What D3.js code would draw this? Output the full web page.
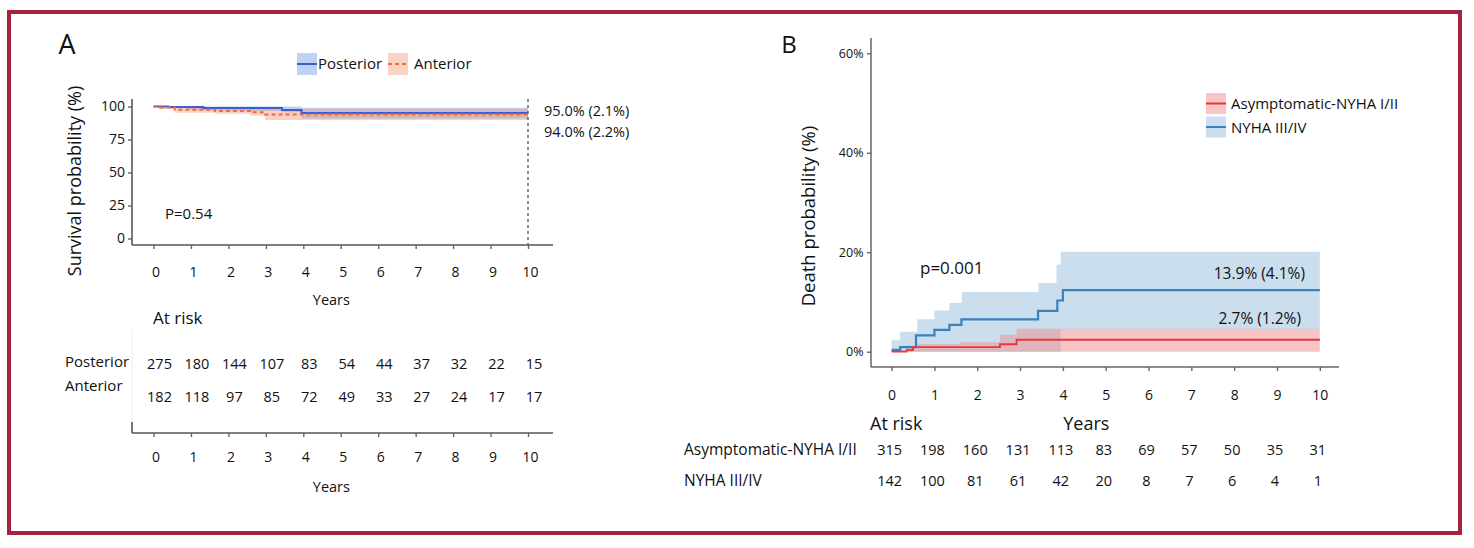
<!DOCTYPE html>
<html>
<head>
<meta charset="utf-8">
<script src="https://cdn.jsdelivr.net/npm/d3@7"></script>
<style>
  body { margin: 0; background: #fff; }
  svg text { font-family: "Open Sans", "Noto Sans", sans-serif; fill: #111; }
</style>
</head>
<body>
<svg id="chart" width="1474" height="548"></svg>
<script>
// ---- data: panel A (survival, %) ----
const yearsA = [0, 1, 2, 3, 4, 5, 6, 7, 8, 9, 10];
const survTicksA = [0, 25, 50, 75, 100];
const kmPosterior = [[0, 100], [0.4, 99.6], [1.33, 98.9], [3.43, 97.3], [3.95, 95.0]];
const kmAnterior = [[0, 100], [0.15, 99.3], [0.57, 97.6], [1.64, 96.6], [2.58, 95.6], [2.98, 94.0]];
// [time, lower, upper]
const ciPosterior = [[0, 100, 100], [0.4, 99.0, 100], [0.9, 97.8, 100], [1.33, 97.0, 100], [2.0, 96.6, 100], [3.43, 95.6, 100], [3.95, 90.9, 99.1]];
const ciAnterior = [[0, 100, 100], [0.15, 98.2, 100], [0.57, 95.2, 99.6], [1.64, 94.6, 99.2], [2.58, 93.2, 98.6], [2.98, 89.7, 98.3]];
const riskPosterior = [275, 180, 144, 107, 83, 54, 44, 37, 32, 22, 15];
const riskAnterior = [182, 118, 97, 85, 72, 49, 33, 27, 24, 17, 17];
const endLabelsA = ["95.0% (2.1%)", "94.0% (2.2%)"];

// ---- data: panel B (death probability, %) ----
const yearsB = [0, 1, 2, 3, 4, 5, 6, 7, 8, 9, 10];
const deathTicksB = [0, 20, 40, 60];
const kmNyha34 = [[0, 0.35], [0.2, 0.9], [0.57, 3.3], [1.0, 4.4], [1.35, 5.4], [1.63, 6.5], [3.42, 8.2], [3.87, 10.3], [4.0, 12.4]];
const kmNyha12 = [[0, 0], [0.35, 0.3], [0.5, 0.9], [2.53, 1.5], [2.92, 2.4]];
const ciNyha34 = [[0, 0, 2.3], [0.2, 0, 4.0], [0.6, 0, 6.5], [1.0, 0, 8.3], [1.35, 0, 9.8], [1.64, 0, 12.0], [3.43, 0, 13.8], [3.85, 0, 17.5], [3.95, 4.5, 20.1]];
const ciNyha12 = [[0, 0, 0.3], [0.35, 0, 1.0], [0.6, 0, 1.5], [1.6, 0, 1.9], [2.53, 0, 3.4], [2.92, 0, 4.6]];
const riskNyha12 = [315, 198, 160, 131, 113, 83, 69, 57, 50, 35, 31];
const riskNyha34 = [142, 100, 81, 61, 42, 20, 8, 7, 6, 4, 1];
const endLabelsB = ["13.9% (4.1%)", "2.7% (1.2%)"];

const svg = d3.select("#chart");

// frame
svg.append("rect").attr("x", 9).attr("y", 12).attr("width", 1451).attr("height", 521)
  .attr("fill", "#fff").attr("stroke", "#a6233f").attr("stroke-width", 4);

var extend = (arr, end) => arr.concat([[end].concat(arr[arr.length - 1].slice(1))]);

var styleAxis = (g, size) => {
  g.select(".domain").remove();
  g.selectAll(".tick line").attr("stroke", "#666").attr("stroke-width", 1.4);
  g.selectAll(".tick text").attr("font-size", size).style("fill", "#111");
};

// ================= Panel A =================
const xA = d3.scaleLinear().domain([0, 10]).range([153.5, 528]);
const yA = d3.scaleLinear().domain([0, 100]).range([238.5, 106.5]);
const A = svg.append("g");

A.append("text").attr("x", 67).attr("y", 43).attr("text-anchor", "middle")
  .attr("dominant-baseline", "central").attr("font-size", 27).text("A");

// legend
var legA = [
  { name: "Posterior", x: 297, fill: "#6f9be6", op: 0.45, stroke: "#3a5fc8", dash: null, tx: 318 },
  { name: "Anterior", x: 388, fill: "#f28b6d", op: 0.4, stroke: "#ef6a45", dash: "4,3", tx: 414 }
];
legA.forEach(l => {
  A.append("rect").attr("x", l.x).attr("y", 53).attr("width", 20).attr("height", 22)
    .attr("fill", l.fill).attr("fill-opacity", l.op);
  A.append("line").attr("x1", l.x).attr("x2", l.x + 20).attr("y1", 64).attr("y2", 64)
    .attr("stroke", l.stroke).attr("stroke-width", 2).attr("stroke-dasharray", l.dash);
  A.append("text").attr("x", l.tx).attr("y", 63).attr("dominant-baseline", "central")
    .attr("font-size", 15).text(l.name);
});

// bands
var areaA = d3.area().x(d => xA(d[0])).y0(d => yA(d[1])).y1(d => yA(d[2])).curve(d3.curveStepAfter);
A.append("path").attr("d", areaA(extend(ciPosterior, 10))).attr("fill", "#6f9be6").attr("fill-opacity", 0.45);
A.append("path").attr("d", areaA(extend(ciAnterior, 10))).attr("fill", "#f28b6d").attr("fill-opacity", 0.4);

var lineA = d3.line().x(d => xA(d[0])).y(d => yA(d[1])).curve(d3.curveStepAfter);
A.append("path").attr("d", lineA(extend(kmPosterior, 10))).attr("fill", "none")
  .attr("stroke", "#3a5fc8").attr("stroke-width", 2);
A.append("path").attr("d", lineA(extend(kmAnterior, 10))).attr("fill", "none")
  .attr("stroke", "#ef6a45").attr("stroke-width", 2).attr("stroke-dasharray", "4,3");

// axes
A.append("line").attr("x1", 132).attr("x2", 132).attr("y1", 99).attr("y2", 245)
  .attr("stroke", "#555").attr("stroke-width", 1.6);
A.append("line").attr("x1", 132).attr("x2", 553).attr("y1", 245).attr("y2", 245)
  .attr("stroke", "#555").attr("stroke-width", 1.6);
A.append("g").attr("transform", "translate(132,0)")
  .call(d3.axisLeft(yA).tickValues(survTicksA).tickSize(4).tickPadding(3))
  .call(g => styleAxis(g, 14));
A.append("g").attr("transform", "translate(0,245)")
  .call(d3.axisBottom(xA).tickValues(yearsA).tickSize(4).tickPadding(18))
  .call(g => styleAxis(g, 14))
  .call(g => g.selectAll(".tick text").attr("dx", 2));

A.append("line").attr("x1", xA(10)).attr("x2", xA(10)).attr("y1", 99).attr("y2", 245)
  .attr("stroke", "#555").attr("stroke-width", 1.3).attr("stroke-dasharray", "3,3");

A.append("text").attr("transform", "translate(74,181) rotate(-90)").attr("text-anchor", "middle")
  .attr("dominant-baseline", "central").attr("font-size", 18).text("Survival probability (%)");
A.append("text").attr("x", xA(4.75)).attr("y", 299).attr("text-anchor", "middle")
  .attr("dominant-baseline", "central").attr("font-size", 14.5).text("Years");
A.append("text").attr("x", 165).attr("y", 213).attr("dominant-baseline", "central")
  .attr("font-size", 15).text("P=0.54");
endLabelsA.forEach((t, i) => {
  A.append("text").attr("x", 544).attr("y", [110.5, 131][i]).attr("dominant-baseline", "central")
    .attr("font-size", 14.5).text(t);
});

// at-risk table A
A.append("text").attr("x", 153).attr("y", 317).attr("dominant-baseline", "central")
  .attr("font-size", 17).text("At risk");
A.append("text").attr("x", 65).attr("y", 361).attr("dominant-baseline", "central")
  .attr("font-size", 15).text("Posterior");
A.append("text").attr("x", 65).attr("y", 385).attr("dominant-baseline", "central")
  .attr("font-size", 15).text("Anterior");
[[riskPosterior, 363], [riskAnterior, 396]].forEach(([row, y]) => {
  A.selectAll(null).data(row).enter().append("text")
    .attr("x", (d, i) => xA(yearsA[i]) + 6).attr("y", y)
    .attr("text-anchor", "middle").attr("dominant-baseline", "central")
    .attr("font-size", 14.5).text(d => d);
});
A.append("line").attr("x1", 132).attr("x2", 132).attr("y1", 330).attr("y2", 422)
  .attr("stroke", "#eee").attr("stroke-width", 1);
A.append("line").attr("x1", 132).attr("x2", 132).attr("y1", 422).attr("y2", 433)
  .attr("stroke", "#555").attr("stroke-width", 1.6);
A.append("line").attr("x1", 132).attr("x2", 553).attr("y1", 433).attr("y2", 433)
  .attr("stroke", "#555").attr("stroke-width", 1.6);
A.append("g").attr("transform", "translate(0,433)")
  .call(d3.axisBottom(xA).tickValues(yearsA).tickSize(4).tickPadding(15))
  .call(g => styleAxis(g, 14))
  .call(g => g.selectAll(".tick text").attr("dx", 2));
A.append("text").attr("x", xA(4.75)).attr("y", 486).attr("text-anchor", "middle")
  .attr("dominant-baseline", "central").attr("font-size", 14.5).text("Years");

// ================= Panel B =================
const xB = d3.scaleLinear().domain([0, 10]).range([891.6, 1319.8]);
const yB = d3.scaleLinear().domain([0, 60]).range([351.7, 53.3]);
const B = svg.append("g");

B.append("text").attr("x", 789).attr("y", 43).attr("text-anchor", "middle")
  .attr("dominant-baseline", "central").attr("font-size", 24).text("B");

var areaB = d3.area().x(d => xB(d[0])).y0(d => yB(d[1])).y1(d => yB(d[2])).curve(d3.curveStepAfter);
B.append("path").attr("d", areaB(extend(ciNyha34, 10))).attr("fill", "#9fc3df").attr("fill-opacity", 0.55);
B.append("path").attr("d", areaB(extend(ciNyha12, 10))).attr("fill", "#f08c8c").attr("fill-opacity", 0.5);

var lineB = d3.line().x(d => xB(d[0])).y(d => yB(d[1])).curve(d3.curveStepAfter);
B.append("path").attr("d", lineB(extend(kmNyha34, 10))).attr("fill", "none")
  .attr("stroke", "#3b82bd").attr("stroke-width", 2.2);
B.append("path").attr("d", lineB(extend(kmNyha12, 10))).attr("fill", "none")
  .attr("stroke", "#e8363a").attr("stroke-width", 1.8);

B.append("line").attr("x1", 871).attr("x2", 871).attr("y1", 38).attr("y2", 367)
  .attr("stroke", "#666").attr("stroke-width", 1.5);
B.append("line").attr("x1", 871).attr("x2", 1339).attr("y1", 367).attr("y2", 367)
  .attr("stroke", "#666").attr("stroke-width", 1.5);
B.append("g").attr("transform", "translate(871,0)")
  .call(d3.axisLeft(yB).tickValues(deathTicksB).tickSize(4).tickPadding(3.5).tickFormat(d => d + "%"))
  .call(g => styleAxis(g, 12.5));
B.append("g").attr("transform", "translate(0,367)")
  .call(d3.axisBottom(xB).tickValues(yearsB).tickSize(4).tickPadding(19))
  .call(g => styleAxis(g, 14));

B.append("text").attr("transform", "translate(807,216) rotate(-90)").attr("text-anchor", "middle")
  .attr("dominant-baseline", "central").attr("font-size", 18.5).text("Death probability (%)");
B.append("text").attr("x", 920).attr("y", 267).attr("dominant-baseline", "central")
  .attr("font-size", 17).text("p=0.001");
endLabelsB.forEach((t, i) => {
  B.append("text").attr("x", [1305, 1301][i]).attr("y", [273, 318][i]).attr("text-anchor", "end")
    .attr("dominant-baseline", "central").attr("font-size", 15.5).text(t);
});

// legend B
var legB = [
  { name: "Asymptomatic-NYHA I/II", y: 93, fill: "#f08c8c", op: 0.5, stroke: "#e8363a" },
  { name: "NYHA III/IV", y: 116.5, fill: "#9fc3df", op: 0.55, stroke: "#3b82bd" }
];
legB.forEach(l => {
  B.append("rect").attr("x", 1206).attr("y", l.y).attr("width", 20).attr("height", 21)
    .attr("fill", l.fill).attr("fill-opacity", l.op);
  B.append("line").attr("x1", 1206).attr("x2", 1226).attr("y1", l.y + 10.5).attr("y2", l.y + 10.5)
    .attr("stroke", l.stroke).attr("stroke-width", 2);
  B.append("text").attr("x", 1231).attr("y", l.y + 10).attr("dominant-baseline", "central")
    .attr("font-size", 15).text(l.name);
});

// at-risk table B
B.append("text").attr("x", 870).attr("y", 422.5).attr("dominant-baseline", "central")
  .attr("font-size", 18).text("At risk");
B.append("text").attr("x", xB(4.5) + 2).attr("y", 422.5).attr("text-anchor", "middle")
  .attr("dominant-baseline", "central").attr("font-size", 18).text("Years");
B.append("text").attr("x", 684).attr("y", 449).attr("dominant-baseline", "central")
  .attr("font-size", 15.5).text("Asymptomatic-NYHA I/II");
B.append("text").attr("x", 684).attr("y", 480).attr("dominant-baseline", "central")
  .attr("font-size", 15.5).text("NYHA III/IV");
[[riskNyha12, 449], [riskNyha34, 480]].forEach(([row, y]) => {
  B.selectAll(null).data(row).enter().append("text")
    .attr("x", (d, i) => xB(yearsB[i]) - 2).attr("y", y)
    .attr("text-anchor", "middle").attr("dominant-baseline", "central")
    .attr("font-size", 14.5).text(d => d);
});
</script>
</body>
</html>
